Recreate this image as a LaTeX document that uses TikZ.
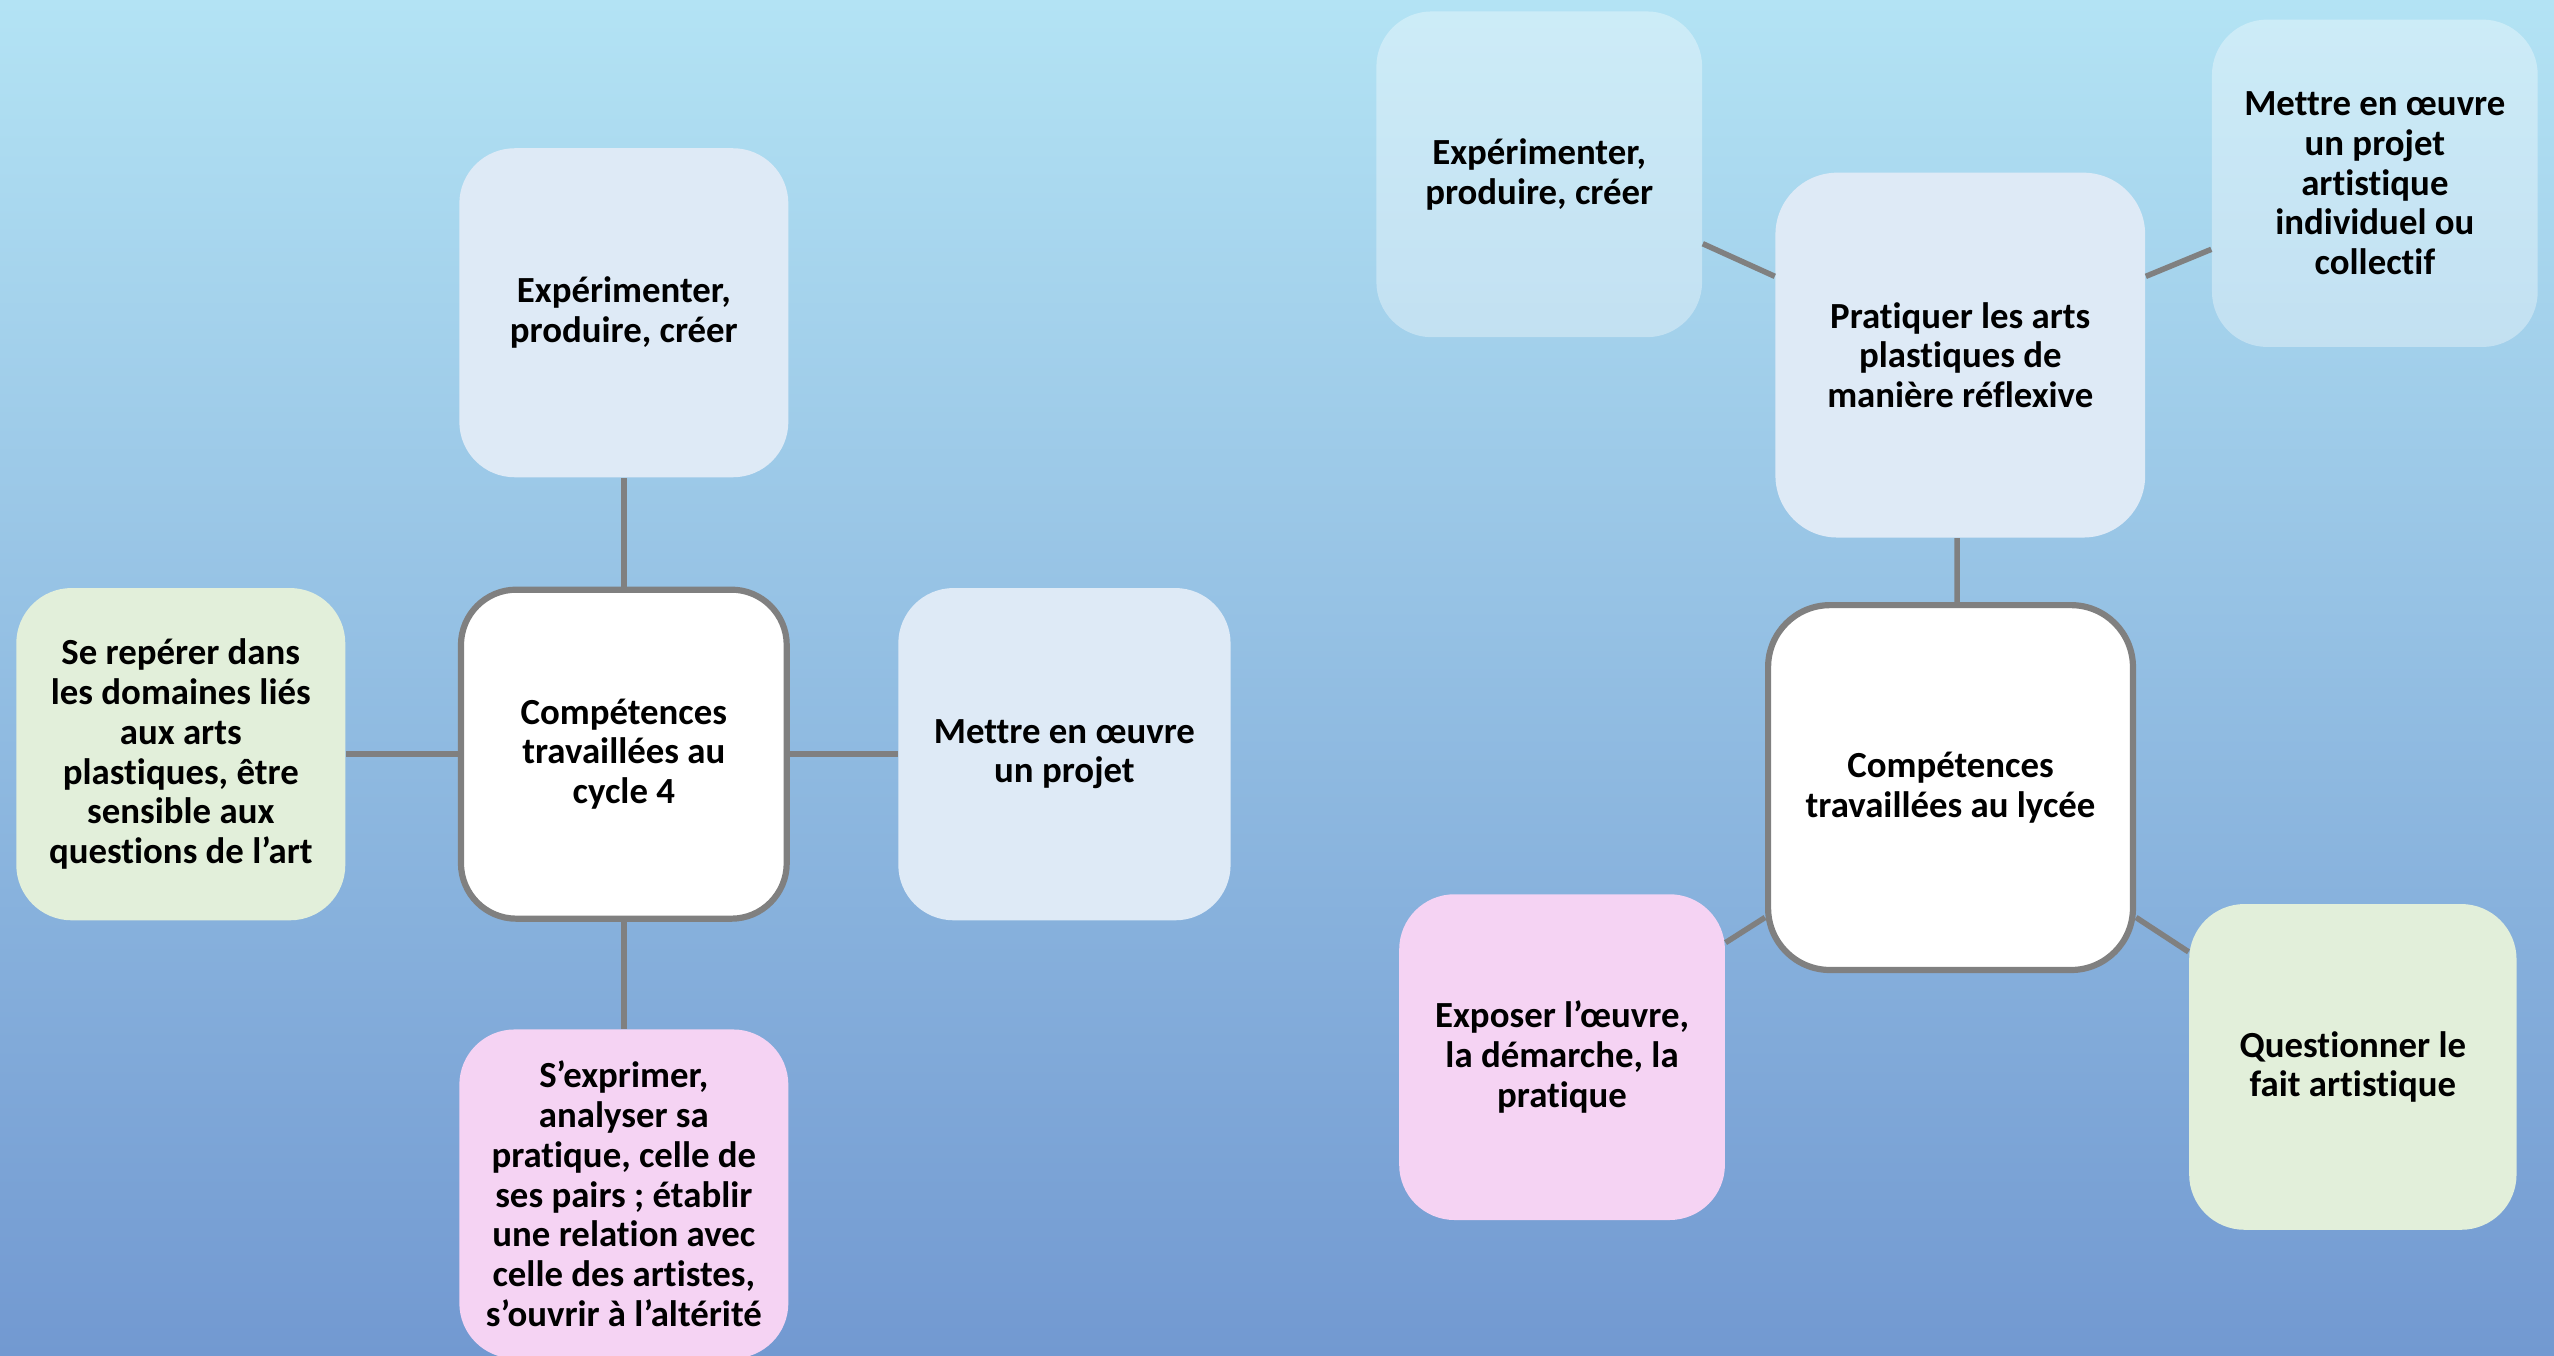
\documentclass[tikz,border=0pt]{standalone}
\usepackage{fontspec}
\setmainfont{Carlito}[Ligatures=NoCommon]
\definecolor{bgtop}{RGB}{179,227,244}
\definecolor{bgbot}{RGB}{114,153,209}
\definecolor{paleblue}{RGB}{222,234,246}
\definecolor{palegreen}{RGB}{226,239,218}
\definecolor{palepink}{RGB}{245,211,243}
\definecolor{linegray}{RGB}{128,128,128}

\begin{document}
\begin{tikzpicture}[x=0.5pt, y=-0.5pt,
  box/.style={rounded corners=17pt, inner sep=0pt, align=center,
    minimum width=101pt, minimum height=101pt,
    font=\fontsize{11.3}{12.2}\selectfont\bfseries},
  hub/.style={box, fill=white, draw=linegray, line width=1.9pt},
  ghost/.style={box, fill=white, fill opacity=0.35, text opacity=1},
  link/.style={draw=linegray, line width=1.7pt}
]
  % Background
  \clip (0,0) rectangle (1568,832);
  \shade[top color=bgtop, bottom color=bgbot] (0,0) rectangle (1568,832);

  % Cycle 4
  \node[hub, minimum width=100pt, minimum height=101pt] (cycle) at (383,463) {Compétences\\travaillées au\\cycle 4};
  \node[box, fill=paleblue] (expA) at (383,192) {Expérimenter,\\produire, créer};
  \node[box, fill=palegreen, minimum height=102pt] (reperer) at (111,463) {Se repérer dans\\les domaines liés\\aux arts\\plastiques, être\\sensible aux\\questions de l’art};
  \node[box, fill=paleblue, minimum width=102pt, minimum height=102pt] (projA) at (653.5,463) {Mettre en œuvre\\un projet};
  \node[box, fill=palepink] (exprimer) at (383,733) {S’exprimer,\\analyser sa\\pratique, celle de\\ses pairs ; établir\\une relation avec\\celle des artistes,\\s’ouvrir à l’altérité};

  \draw[link] (expA.south) -- (cycle.north);
  \draw[link] (reperer.east) -- (cycle.west);
  \draw[link] (cycle.east) -- (projA.west);
  \draw[link] (cycle.south) -- (exprimer.north);

  % Lycee
  \node[hub, rounded corners=19pt, minimum width=112pt, minimum height=112pt] (lycee) at (1197.5,483.5) {Compétences\\travaillées au lycée};
  \node[box, fill=paleblue, rounded corners=19pt, minimum width=113.5pt, minimum height=112pt] (pratiquer) at (1203.5,218) {Pratiquer les arts\\plastiques de\\manière réflexive};
  \node[ghost, minimum width=100pt, minimum height=100pt] (expB) at (945,107) {Expérimenter,\\produire, créer};
  \node[ghost, minimum width=100pt, minimum height=100.5pt] (projB) at (1458,112.5) {Mettre en œuvre\\un projet\\artistique\\individuel ou\\collectif};
  \node[box, fill=palepink, minimum width=100pt, minimum height=100pt] (exposer) at (959,649) {Exposer l’œuvre,\\la démarche, la\\pratique};
  \node[box, fill=palegreen, minimum width=100.5pt, minimum height=100pt] (question) at (1444.5,655) {Questionner le\\fait artistique};

  \draw[link] (expB.-23) -- (pratiquer.157);
  \draw[link] (pratiquer.23) -- (projB.202);
  \draw[link] (pratiquer.-91.3) -- (lycee.88.7);
  \draw[link] (lycee.215) -- (exposer.35);
  \draw[link] (lycee.-35) -- (question.145);
\end{tikzpicture}
\end{document}
